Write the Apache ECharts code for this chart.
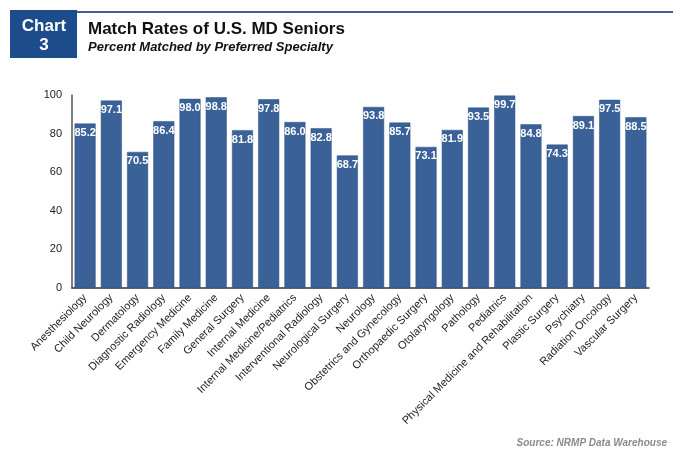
<!DOCTYPE html>
<html>
<head>
<meta charset="utf-8">
<script src="https://cdn.jsdelivr.net/npm/echarts@6/dist/echarts.min.js"></script>
<style>
  html, body { margin: 0; padding: 0; background: #fff; }
  #main { width: 680px; height: 457px; }
</style>
</head>
<body>
<div id="main"></div>
<script>
var specialties = [
    'Anesthesiology', 'Child Neurology', 'Dermatology', 'Diagnostic Radiology',
    'Emergency Medicine', 'Family Medicine', 'General Surgery', 'Internal Medicine',
    'Internal Medicine/Pediatrics', 'Interventional Radiology', 'Neurological Surgery',
    'Neurology', 'Obstetrics and Gynecology', 'Orthopaedic Surgery', 'Otolaryngology',
    'Pathology', 'Pediatrics', 'Physical Medicine and Rehabilitation', 'Plastic Surgery',
    'Psychiatry', 'Radiation Oncology', 'Vascular Surgery'
];
var matchRates = [
    85.2, 97.1, 70.5, 86.4, 98.0, 98.8, 81.8, 97.8, 86.0, 82.8, 68.7,
    93.8, 85.7, 73.1, 81.9, 93.5, 99.7, 84.8, 74.3, 89.1, 97.5, 88.5
];

var chartDom = document.getElementById('main');
var myChart = echarts.init(chartDom);
var option;

option = {
    textStyle: { fontFamily: 'Liberation Sans, Arial, sans-serif' },
    title: {
        text: 'Match Rates of U.S. MD Seniors',
        subtext: 'Percent Matched by Preferred Specialty',
        left: 88,
        top: 21,
        itemGap: 3,
        padding: 0,
        textStyle: { fontSize: 17, fontWeight: 'bold', color: '#111' },
        subtextStyle: { fontSize: 13, fontWeight: 'bold', fontStyle: 'italic', color: '#111' }
    },
    graphic: [
        {
            type: 'rect',
            shape: { x: 10, y: 10, width: 67, height: 48 },
            style: { fill: '#1d4c8c' }
        },
        {
            type: 'line',
            shape: { x1: 77, y1: 12, x2: 673, y2: 12 },
            style: { stroke: '#3d5f93', lineWidth: 2 }
        },
        {
            type: 'text',
            x: 44,
            y: 36,
            style: {
                text: 'Chart\n3',
                fill: '#fff',
                font: 'bold 17px Liberation Sans, Arial, sans-serif',
                align: 'center',
                verticalAlign: 'middle',
                lineHeight: 19
            }
        },
        {
            type: 'text',
            right: 13,
            bottom: 9,
            style: {
                text: 'Source: NRMP Data Warehouse',
                fill: '#8a8a8a',
                font: 'italic bold 10px Liberation Sans, Arial, sans-serif'
            }
        }
    ],
    grid: {
        left: 72,
        right: 31,
        top: 95,
        bottom: 169
    },
    xAxis: {
        type: 'category',
        data: specialties,
        axisLine: { lineStyle: { color: '#333', width: 1.5 } },
        axisTick: { show: false },
        axisLabel: {
            interval: 0,
            rotate: 45,
            fontSize: 11,
            color: '#222',
            margin: 8
        }
    },
    yAxis: {
        type: 'value',
        min: 0,
        max: 100,
        interval: 20,
        axisLine: { show: true, lineStyle: { color: '#555', width: 1.5 } },
        axisTick: { show: false },
        splitLine: { show: false },
        axisLabel: { fontSize: 11, color: '#222', margin: 10 }
    },
    series: [
        {
            type: 'bar',
            data: matchRates,
            barCategoryGap: '20%',
            itemStyle: { color: '#3a6298', borderColor: '#2d4f80', borderWidth: 0.5 },
            label: {
                show: true,
                position: 'insideTop',
                distance: 4,
                color: '#fff',
                fontSize: 11,
                fontWeight: 'bold',
                formatter: function (p) { return p.value.toFixed(1); }
            }
        }
    ]
};

option && myChart.setOption(option);
</script>
</body>
</html>
